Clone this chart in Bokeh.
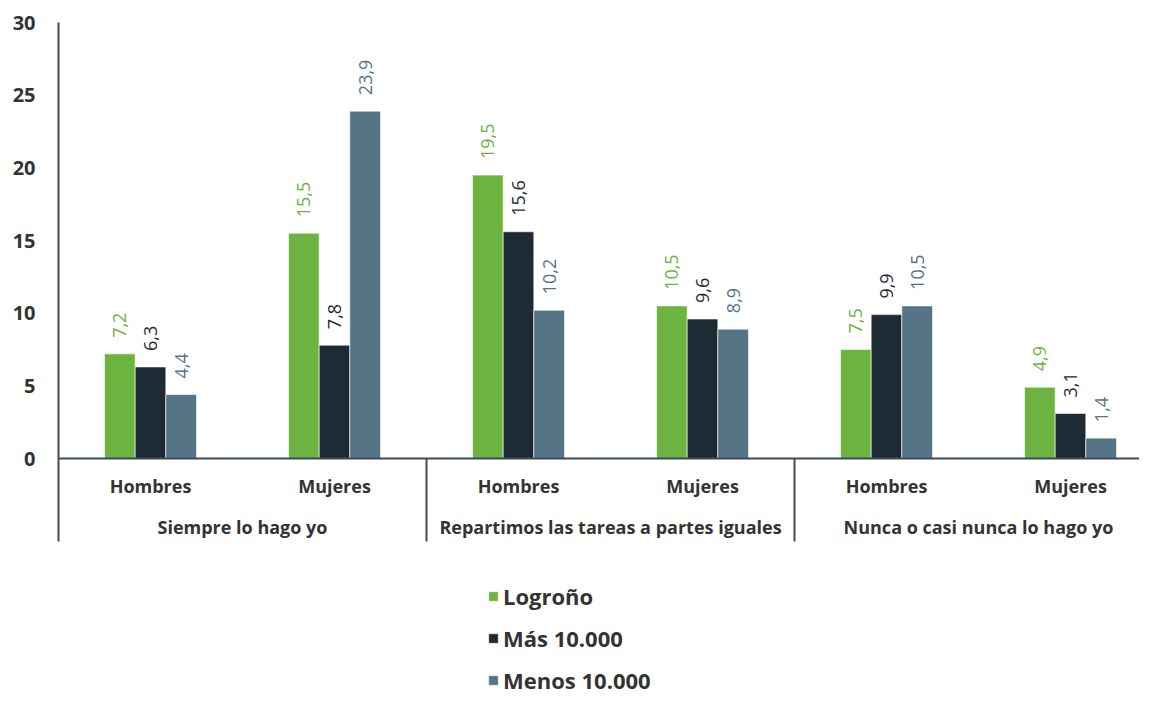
import numpy as np
from bokeh.plotting import figure
from bokeh.models import Range1d, FixedTicker, Span, ColumnDataSource, Legend, LegendItem
from bokeh.core.properties import value
from bokeh.embed import file_html
from bokeh.resources import INLINE

groups = ["Siempre lo hago yo", "Repartimos las tareas a partes iguales", "Nunca o casi nunca lo hago yo"]
subgroups = ["Hombres", "Mujeres"]
series = ["Logroño", "Más 10.000", "Menos 10.000"]
logrono = [7.2, 15.5, 19.5, 10.5, 7.5, 4.9]
mas_10000 = [6.3, 7.8, 15.6, 9.6, 9.9, 3.1]
menos_10000 = [4.4, 23.9, 10.2, 8.9, 10.5, 1.4]
y_ticks = [0, 5, 10, 15, 20, 25, 30]

colors = ["#6db33f", "#1e2b35", "#557587"]
label_colors = ["#6db33f", "#1e2b35", "#557587"]
axis_color = "#3d4b55"
text_color = "#333333"
FONT = "Open Sans"

W, H = 1139, 695
LEFT, TOP = 58, 22
PX_X = 184.0
frame_w = W - LEFT
frame_h = H - TOP
px_y = 436 / 30.0
y_start = 30 - frame_h / px_y

p = figure(width=W, height=H, output_backend="svg", toolbar_location=None,
           x_range=Range1d(0, frame_w / PX_X), y_range=Range1d(y_start, 30),
           x_axis_location=None, min_border_left=LEFT, min_border_top=TOP,
           min_border_bottom=0, min_border_right=0)
p.outline_line_color = None
p.grid.visible = False
p.background_fill_color = "white"

ya = p.yaxis[0]
ya.ticker = FixedTicker(ticks=y_ticks)
ya.bounds = (-5.71, 30)
ya.axis_line_color = axis_color
ya.axis_line_width = 2
ya.major_tick_line_color = None
ya.minor_tick_line_color = None
ya.major_label_standoff = 17
ya.major_label_text_font = FONT
ya.major_label_text_font_size = "20px"
ya.major_label_text_font_style = "bold"
ya.major_label_text_color = text_color

n_sub = len(groups) * len(subgroups)
centers = np.arange(n_sub) + 0.5
bw = 1.0 / 6.0
offsets = [-bw, 0.0, bw]
data = [logrono, mas_10000, menos_10000]

renderers = []
for i, (vals, off) in enumerate(zip(data, offsets)):
    src = ColumnDataSource(dict(x=centers + off, top=vals,
                                lab=[f"{v:.1f}".replace(".", ",") for v in vals]))
    r = p.vbar(x="x", top="top", bottom=0, width=bw, source=src,
               fill_color=colors[i], line_color="white", line_width=0.6)
    renderers.append(r)
    p.text(x="x", y="top", text="lab", source=src, angle=np.pi / 2,
           text_align="left", text_baseline="middle", y_offset=-16,
           text_font=value(FONT), text_font_size="18px", text_color=label_colors[i])

p.add_layout(Span(location=0, dimension="width", line_color=axis_color, line_width=2))

# group separators
seps = np.arange(1, len(groups) + 1) * len(subgroups)
p.segment(x0=seps, y0=0, x1=seps, y1=-5.71, line_color=axis_color, line_width=2)

sub_src = ColumnDataSource(dict(x=centers, y=[-1.87] * n_sub,
                                t=subgroups * len(groups)))
p.text(x="x", y="y", text="t", source=sub_src, text_align="center", text_baseline="middle",
       text_font=value(FONT), text_font_size="18px", text_font_style="bold", text_color=text_color)

grp_src = ColumnDataSource(dict(x=(np.arange(len(groups)) + 0.5) * len(subgroups),
                                y=[-4.7] * len(groups), t=groups))
p.text(x="x", y="y", text="t", source=grp_src, text_align="center", text_baseline="middle",
       text_font=value(FONT), text_font_size="18px", text_font_style="bold", text_color=text_color)

legend = Legend(items=[LegendItem(label=s, renderers=[r]) for s, r in zip(series, renderers)],
                location=(429, 0), orientation="vertical")
legend.border_line_color = None
legend.background_fill_alpha = 0
legend.padding = 0
legend.margin = 0
legend.spacing = 12
legend.glyph_width = 12
legend.glyph_height = 12
legend.label_height = 24
legend.label_standoff = 4
legend.label_text_font = FONT
legend.label_text_font_size = "22px"
legend.label_text_font_style = "bold"
legend.label_text_color = text_color
p.add_layout(legend)

open("out.html", "w").write(file_html(p, INLINE))
